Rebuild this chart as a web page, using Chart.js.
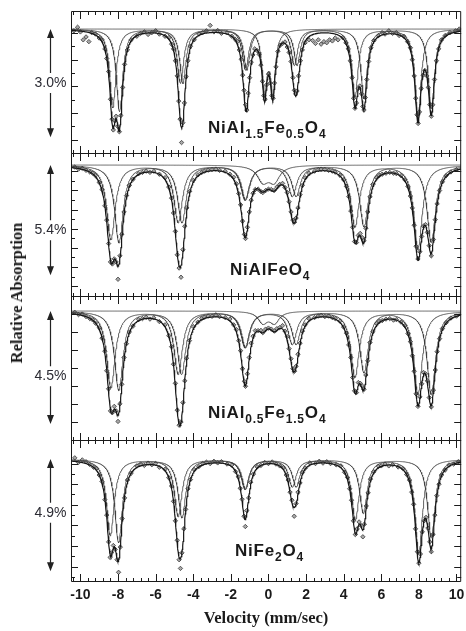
<!DOCTYPE html>
<html>
<head>
<meta charset="utf-8">
<title>Mossbauer spectra</title>
<script src="https://cdn.jsdelivr.net/npm/chart.js@4.4.1/dist/chart.umd.min.js"></script>
<style>
  body { margin: 0; background: #fff; }
  #fig { position: relative; width: 466px; height: 631px; overflow: hidden; }
  #fig canvas { position: absolute; left: 0; }
  .name { position: absolute; font: bold 17px "Liberation Sans", Arial, sans-serif; color: #1a1a1a;
          letter-spacing: 0.8px; white-space: nowrap; line-height: 1; z-index: 5; }
  .name sub { font-size: 12px; vertical-align: -5px; line-height: 0; }
  #ytitle { position: absolute; left: 17px; top: 293px; transform: translate(-50%, -50%) rotate(-90deg);
            font: bold 16.5px "Liberation Serif", serif; white-space: nowrap; color: #1a1a1a; z-index: 5; }
</style>
</head>
<body>
<div id="fig">
  <div id="ytitle">Relative Absorption</div>
</div>
<script>
// ---------- DATA ----------
const velTicks = [-10, -8, -6, -4, -2, 0, 2, 4, 6, 8, 10];
const names = [
  "NiAl<sub>1.5</sub>Fe<sub>0.5</sub>O<sub>4</sub>",
  "NiAlFeO<sub>4</sub>",
  "NiAl<sub>0.5</sub>Fe<sub>1.5</sub>O<sub>4</sub>",
  "NiFe<sub>2</sub>O<sub>4</sub>"
];
const scalePct = [3.0, 5.4, 4.5, 4.9];   // size of the scale arrow, % absorption
const yTop = [-0.5, -0.59, -0.6, -0.83];  // % absorption at panel top
const yBottom = [3.44, 6.42, 5.14, 5.33]; // % absorption at panel bottom

// fitted sub-spectra: line positions (mm/s), depths (%), half widths (mm/s)
// A = tetrahedral sextet, B = octahedral sextet, D = central doublet
const p1PosA = [-7.92, -4.55, -1.22, 1.38, 4.60, 7.95];
const p1DepA = [2.29, 1.50, 1.13, 1.00, 1.88, 2.42];
const p1PosB = [-8.28, -4.68, -1.15, 1.52, 5.08, 8.66];
const p1DepB = [2.18, 1.50, 1.13, 1.00, 1.93, 2.21];
const p1PosD = [-0.21, 0.23];
const p1DepD = [1.68, 1.68];
const p1Width = [0.20, 0.16];

const p2PosA = [-7.95, -4.60, -1.25, 1.27, 4.60, 7.95];
const p2DepA = [3.80, 2.80, 1.68, 1.50, 3.00, 4.12];
const p2PosB = [-8.38, -4.80, -1.22, 1.47, 5.08, 8.66];
const p2DepB = [3.65, 2.80, 1.68, 1.50, 3.00, 3.78];
const p2PosD = [-0.30, 0.30];
const p2DepD = [0.75, 0.75];
const p2Width = [0.27, 0.35];

const p3PosA = [-7.96, -4.62, -1.25, 1.27, 4.60, 7.95];
const p3DepA = [3.15, 2.50, 1.43, 1.30, 2.61, 3.32];
const p3PosB = [-8.38, -4.80, -1.22, 1.47, 5.08, 8.66];
const p3DepB = [3.05, 2.50, 1.43, 1.30, 2.44, 3.32];
const p3PosD = [-0.30, 0.32];
const p3DepD = [0.45, 0.45];
const p3Width = [0.27, 0.30];

const p4PosA = [-7.97, -4.60, -1.25, 1.27, 4.62, 7.99];
const p4DepA = [3.65, 2.55, 1.30, 1.20, 2.64, 4.11];
const p4PosB = [-8.41, -4.80, -1.22, 1.47, 5.05, 8.66];
const p4DepB = [3.35, 2.50, 1.30, 1.20, 2.37, 3.43];
const p4Width = [0.24];

// measured points [velocity, % absorption]
const p1Points = [[-10.35,0.05],[-10.15,-0.05],[-10.0,0.08],[-9.85,0.3],[-9.7,0.22],[-9.55,0.35],[-9.4,0.1],[-9.2,0.14],[-9.0,0.25],[-8.85,0.3],[-8.7,0.55],[-8.6,0.82],[-8.5,1.18],[-8.4,1.95],[-8.32,2.5],[-8.25,2.8],[-8.17,2.55],[-8.1,2.42],[-8.02,2.7],[-7.93,2.85],[-7.85,2.4],[-7.75,1.62],[-7.65,0.98],[-7.5,0.58],[-7.3,0.3],[-7.0,0.2],[-6.8,0.12],[-6.6,0.08],[-6.4,0.15],[-6.2,0.1],[-6.0,0.05],[-5.8,0.14],[-5.5,0.2],[-5.3,0.24],[-5.15,0.42],[-5.05,0.55],[-4.95,0.88],[-4.85,1.3],[-4.77,2.0],[-4.7,2.5],[-4.62,3.15],[-4.55,2.6],[-4.47,2.05],[-4.38,1.32],[-4.28,0.88],[-4.15,0.48],[-3.95,0.3],[-3.7,0.14],[-3.5,0.1],[-3.3,0.05],[-3.1,-0.1],[-2.9,0.08],[-2.7,0.04],[-2.5,0.12],[-2.2,0.1],[-1.95,0.2],[-1.78,0.28],[-1.65,0.35],[-1.55,0.58],[-1.45,0.84],[-1.37,1.28],[-1.3,1.7],[-1.22,2.1],[-1.15,2.25],[-1.08,1.78],[-1.0,1.35],[-0.92,0.92],[-0.83,0.72],[-0.73,0.55],[-0.6,0.6],[-0.5,0.7],[-0.4,1.0],[-0.32,1.45],[-0.25,1.85],[-0.18,1.95],[-0.1,1.55],[0.0,1.25],[0.1,1.5],[0.18,1.85],[0.25,1.92],[0.32,1.5],[0.4,1.05],[0.5,0.62],[0.62,0.45],[0.75,0.4],[0.88,0.36],[1.0,0.5],[1.1,0.65],[1.2,0.9],[1.3,1.35],[1.38,1.7],[1.45,1.8],[1.52,1.72],[1.6,1.3],[1.7,0.88],[1.8,0.58],[1.95,0.38],[2.15,0.3],[2.35,0.32],[2.5,0.4],[2.65,0.3],[2.8,0.42],[2.95,0.35],[3.1,0.38],[3.25,0.3],[3.4,0.33],[3.55,0.25],[3.7,0.3],[3.95,0.24],[4.12,0.38],[4.25,0.55],[4.35,0.88],[4.45,1.35],[4.53,1.92],[4.6,2.2],[4.68,2.05],[4.77,1.65],[4.86,1.58],[4.95,1.8],[5.02,2.15],[5.08,2.25],[5.15,1.9],[5.23,1.4],[5.33,0.9],[5.45,0.52],[5.6,0.32],[5.85,0.18],[6.05,0.1],[6.2,0.14],[6.4,0.05],[6.6,0.12],[6.8,0.1],[6.95,0.18],[7.2,0.2],[7.4,0.35],[7.55,0.52],[7.65,0.85],[7.75,1.3],[7.83,1.92],[7.9,2.38],[7.96,2.62],[8.03,2.3],[8.12,1.65],[8.22,1.28],[8.32,1.15],[8.42,1.3],[8.5,1.62],[8.58,2.1],[8.66,2.42],[8.74,2.1],[8.83,1.4],[8.93,0.88],[9.05,0.55],[9.2,0.3],[9.4,0.18],[9.65,0.1],[9.95,0.05],[10.15,0.0]];

const p2Points = [[-10.3,0.1],[-10.1,0.2],[-9.9,0.16],[-9.7,0.26],[-9.5,0.34],[-9.35,0.4],[-9.2,0.52],[-9.0,0.85],[-8.85,1.2],[-8.7,2.0],[-8.6,2.7],[-8.5,3.85],[-8.4,4.75],[-8.3,4.85],[-8.2,4.6],[-8.1,4.75],[-8.0,5.6],[-7.9,4.45],[-7.8,3.4],[-7.68,2.3],[-7.55,1.5],[-7.4,1.0],[-7.2,0.7],[-6.9,0.42],[-6.7,0.36],[-6.5,0.3],[-6.3,0.36],[-6.1,0.3],[-5.8,0.45],[-5.5,0.62],[-5.3,1.08],[-5.15,1.62],[-5.05,2.35],[-4.95,3.25],[-4.85,4.4],[-4.75,5.05],[-4.65,5.5],[-4.55,4.15],[-4.45,3.0],[-4.35,2.1],[-4.2,1.3],[-4.0,0.75],[-3.75,0.48],[-3.55,0.36],[-3.4,0.3],[-3.2,0.25],[-3.0,0.22],[-2.8,0.2],[-2.6,0.26],[-2.3,0.3],[-2.05,0.45],[-1.85,0.6],[-1.7,0.92],[-1.58,1.4],[-1.48,1.95],[-1.38,2.75],[-1.28,3.4],[-1.22,3.6],[-1.12,3.05],[-1.02,2.3],[-0.92,1.72],[-0.82,1.38],[-0.7,1.2],[-0.55,1.18],[-0.4,1.3],[-0.3,1.35],[-0.15,1.25],[0.0,1.18],[0.15,1.2],[0.3,1.25],[0.45,1.08],[0.6,0.95],[0.75,0.9],[0.88,1.1],[1.0,1.35],[1.1,1.8],[1.2,2.3],[1.3,2.7],[1.38,2.8],[1.47,2.6],[1.57,2.1],[1.68,1.45],[1.8,1.0],[1.95,0.62],[2.15,0.4],[2.45,0.3],[2.65,0.22],[2.8,0.2],[3.0,0.22],[3.2,0.26],[3.4,0.3],[3.55,0.35],[3.8,0.5],[4.0,0.72],[4.15,1.05],[4.27,1.55],[4.38,2.25],[4.48,3.05],[4.58,3.75],[4.68,3.8],[4.78,3.45],[4.88,3.35],[4.98,3.55],[5.08,3.7],[5.18,3.1],[5.28,2.3],[5.4,1.55],[5.55,0.95],[5.75,0.62],[5.9,0.5],[6.05,0.45],[6.25,0.4],[6.45,0.36],[6.65,0.4],[6.8,0.42],[7.05,0.52],[7.25,0.72],[7.42,1.05],[7.55,1.52],[7.65,2.1],[7.75,2.95],[7.85,3.98],[7.95,4.6],[8.05,4.25],[8.15,3.5],[8.25,3.0],[8.35,2.92],[8.45,3.3],[8.55,3.95],[8.66,4.45],[8.77,3.65],[8.87,2.68],[8.97,1.9],[9.1,1.25],[9.25,0.82],[9.45,0.52],[9.7,0.34],[10.0,0.22]];

const p3Points = [[-10.3,0.05],[-10.1,0.14],[-9.9,0.12],[-9.7,0.22],[-9.5,0.3],[-9.35,0.35],[-9.2,0.48],[-9.0,0.66],[-8.85,1.08],[-8.7,1.6],[-8.6,2.38],[-8.5,3.1],[-8.4,3.98],[-8.3,4.05],[-8.2,3.8],[-8.1,3.98],[-8.0,4.4],[-7.9,3.7],[-7.8,2.92],[-7.68,1.85],[-7.55,1.3],[-7.4,0.84],[-7.2,0.6],[-6.9,0.34],[-6.7,0.3],[-6.5,0.25],[-6.3,0.32],[-6.1,0.27],[-5.8,0.42],[-5.5,0.55],[-5.3,0.98],[-5.15,1.42],[-5.05,2.12],[-4.95,2.88],[-4.85,3.95],[-4.75,4.55],[-4.65,4.42],[-4.55,3.65],[-4.45,2.78],[-4.35,1.88],[-4.2,1.18],[-4.0,0.62],[-3.75,0.44],[-3.55,0.3],[-3.4,0.24],[-3.2,0.2],[-3.0,0.21],[-2.8,0.15],[-2.6,0.22],[-2.3,0.26],[-2.05,0.32],[-1.85,0.55],[-1.7,0.74],[-1.58,1.18],[-1.48,1.58],[-1.38,2.3],[-1.28,2.8],[-1.22,3.0],[-1.12,2.5],[-1.02,1.85],[-0.92,1.28],[-0.82,1.0],[-0.7,0.78],[-0.55,0.78],[-0.4,0.77],[-0.3,0.86],[-0.15,0.72],[0.0,0.68],[0.15,0.72],[0.32,0.8],[0.45,0.7],[0.6,0.66],[0.75,0.58],[0.88,0.8],[1.0,1.02],[1.1,1.5],[1.2,1.9],[1.3,2.3],[1.38,2.4],[1.47,2.2],[1.57,1.72],[1.68,1.28],[1.8,0.8],[1.95,0.55],[2.15,0.3],[2.45,0.26],[2.65,0.2],[2.8,0.17],[3.0,0.22],[3.2,0.2],[3.4,0.26],[3.55,0.3],[3.8,0.4],[4.0,0.64],[4.15,0.88],[4.27,1.35],[4.38,1.85],[4.48,2.65],[4.58,3.18],[4.68,3.25],[4.78,2.85],[4.88,2.88],[4.98,2.98],[5.08,3.12],[5.18,2.55],[5.28,1.98],[5.4,1.25],[5.55,0.82],[5.75,0.5],[5.9,0.4],[6.05,0.38],[6.25,0.32],[6.45,0.3],[6.65,0.36],[6.8,0.34],[7.05,0.44],[7.25,0.58],[7.42,0.9],[7.55,1.22],[7.65,1.78],[7.75,2.4],[7.85,3.3],[7.95,3.8],[8.05,3.42],[8.15,2.9],[8.25,2.45],[8.35,2.5],[8.45,2.78],[8.55,3.45],[8.66,3.82],[8.77,3.15],[8.87,2.35],[8.97,1.62],[9.1,1.1],[9.25,0.7],[9.45,0.46],[9.7,0.28],[10.0,0.2]];

const p4Points = [[-10.3,-0.05],[-10.1,0.15],[-9.9,0.04],[-9.7,0.12],[-9.5,0.24],[-9.3,0.36],[-9.15,0.41],[-9.0,0.7],[-8.85,0.98],[-8.7,1.78],[-8.6,2.45],[-8.5,3.62],[-8.42,4.3],[-8.35,4.1],[-8.25,3.78],[-8.15,3.95],[-8.05,4.4],[-7.97,4.95],[-7.88,3.85],[-7.78,2.6],[-7.65,1.7],[-7.5,0.92],[-7.3,0.62],[-7.0,0.3],[-6.8,0.22],[-6.6,0.28],[-6.4,0.18],[-6.2,0.25],[-6.0,0.2],[-5.8,0.36],[-5.5,0.45],[-5.3,0.82],[-5.15,1.18],[-5.05,1.85],[-4.95,2.7],[-4.85,3.55],[-4.75,4.4],[-4.68,4.78],[-4.6,4.1],[-4.5,3.05],[-4.4,2.2],[-4.28,1.3],[-4.15,0.9],[-3.95,0.46],[-3.7,0.33],[-3.5,0.2],[-3.3,0.14],[-3.1,0.2],[-2.9,0.1],[-2.7,0.17],[-2.5,0.12],[-2.2,0.22],[-1.95,0.26],[-1.75,0.55],[-1.6,0.78],[-1.5,1.28],[-1.4,1.76],[-1.3,2.5],[-1.23,2.95],[-1.15,2.25],[-1.05,1.7],[-0.95,1.02],[-0.8,0.66],[-0.6,0.34],[-0.4,0.28],[-0.2,0.15],[0.0,0.2],[0.2,0.13],[0.4,0.22],[0.6,0.3],[0.8,0.38],[0.95,0.7],[1.05,0.92],[1.15,1.45],[1.25,1.8],[1.37,2.5],[1.47,1.95],[1.57,1.45],[1.68,1.05],[1.8,0.58],[1.95,0.4],[2.2,0.17],[2.5,0.2],[2.7,0.1],[2.9,0.18],[3.1,0.12],[3.3,0.2],[3.6,0.25],[3.85,0.3],[4.05,0.58],[4.2,0.8],[4.32,1.3],[4.42,1.8],[4.52,2.7],[4.62,3.3],[4.72,3.05],[4.82,2.75],[4.92,2.9],[5.02,3.4],[5.1,2.85],[5.2,2.05],[5.3,1.48],[5.42,0.88],[5.6,0.56],[5.85,0.32],[6.0,0.3],[6.2,0.22],[6.4,0.3],[6.6,0.25],[6.9,0.35],[7.15,0.42],[7.35,0.68],[7.5,0.92],[7.62,1.45],[7.72,1.98],[7.82,3.05],[7.92,4.05],[8.0,4.55],[8.08,4.15],[8.18,3.18],[8.28,2.7],[8.38,2.55],[8.48,3.02],[8.58,3.62],[8.66,4.05],[8.75,3.3],[8.85,2.45],[8.95,1.6],[9.07,1.1],[9.2,0.7],[9.4,0.48],[9.6,0.26],[9.85,0.22],[10.1,0.12]];

// ---------- LAYOUT ----------
const VMIN = -10.5, VMAX = 10.25;
const panelTop = [11, 153, 296, 440];
const panelBottom = [153, 296, 440, 581];
const namePos = [[208, 119], [230, 261], [208, 404], [235, 542]];
const labelAt = [1.5, 3.2, 2.6, 2.35];     // where the % label sits on the arrow
const yTick0 = [0.11, 0.3, 0.1, 0.2];
const yTickStep = [0.37, 0.47, 0.72, 0.45];

const panels = [
  { sites: [[p1PosA, p1DepA, p1Width[0]], [p1PosB, p1DepB, p1Width[0]], [p1PosD, p1DepD, p1Width[1]]], pts: p1Points },
  { sites: [[p2PosA, p2DepA, p2Width[0]], [p2PosB, p2DepB, p2Width[0]], [p2PosD, p2DepD, p2Width[1]]], pts: p2Points },
  { sites: [[p3PosA, p3DepA, p3Width[0]], [p3PosB, p3DepB, p3Width[0]], [p3PosD, p3DepD, p3Width[1]]], pts: p3Points },
  { sites: [[p4PosA, p4DepA, p4Width[0]], [p4PosB, p4DepB, p4Width[0]]], pts: p4Points }
];

function lorentz(v, pos, dep, w) {
  let s = 0;
  for (let i = 0; i < pos.length; i++) s += dep[i] / (1 + ((v - pos[i]) / w) ** 2);
  return s;
}

const grid = [];
for (let v = VMIN; v <= VMAX + 1e-9; v += 0.02) grid.push(+v.toFixed(2));

// ---------- FRAME / TICKS / ARROW ----------
const framePlugin = {
  id: "frame",
  afterDraw(chart, args, opts) {
    const { ctx, chartArea: a, scales: { x, y } } = chart;
    const i = opts.index;
    ctx.save();
    ctx.strokeStyle = "#1a1a1a";
    ctx.lineWidth = 1;
    ctx.beginPath();
    ctx.moveTo(a.left + 0.5, a.top + 0.5);
    ctx.lineTo(a.right - 0.5, a.top + 0.5);
    ctx.lineTo(a.right - 0.5, a.bottom + 0.5);
    ctx.lineTo(a.left + 0.5, a.bottom + 0.5);
    ctx.closePath();

    for (let k = -26; k <= 26; k++) {
      const v = k * 0.4;
      if (v < VMIN || v > VMAX) continue;
      const px = Math.round(x.getPixelForValue(v)) + 0.5;
      const len = k % 5 === 0 ? 8 : 4;
      ctx.moveTo(px, a.top); ctx.lineTo(px, a.top + len);
      ctx.moveTo(px, a.bottom + 1); ctx.lineTo(px, a.bottom + 1 - len);
    }
    let n = 0;
    for (let v = yTick0[i]; v < yBottom[i]; v += yTickStep[i], n++) {
      const py = Math.round(y.getPixelForValue(v)) + 0.5;
      const len = (i !== 2 && n % 2) ? 4 : 7;
      ctx.moveTo(a.left, py); ctx.lineTo(a.left + len, py);
      ctx.moveTo(a.right, py); ctx.lineTo(a.right - len, py);
    }
    ctx.stroke();

    // scale arrow
    const ax = 50.5;
    const y0 = y.getPixelForValue(0), y1 = y.getPixelForValue(scalePct[i]);
    const yl = y.getPixelForValue(labelAt[i]);
    ctx.strokeStyle = "#222";
    ctx.fillStyle = "#222";
    ctx.lineWidth = 1.2;
    ctx.beginPath();
    ctx.moveTo(ax, y0 + 6); ctx.lineTo(ax, yl - 10);
    ctx.moveTo(ax, yl + 10); ctx.lineTo(ax, y1 - 6);
    ctx.stroke();
    ctx.beginPath();
    ctx.moveTo(ax, y0); ctx.lineTo(ax - 3.5, y0 + 9); ctx.lineTo(ax + 3.5, y0 + 9); ctx.closePath();
    ctx.moveTo(ax, y1); ctx.lineTo(ax - 3.5, y1 - 9); ctx.lineTo(ax + 3.5, y1 - 9); ctx.closePath();
    ctx.fill();
    ctx.font = '14px "Liberation Sans", Arial, sans-serif';
    ctx.fillStyle = "#2b2b33";
    ctx.textAlign = "center";
    ctx.textBaseline = "middle";
    ctx.fillText(scalePct[i].toFixed(1) + "%", ax, yl);
    ctx.restore();
  }
};

// ---------- CHARTS ----------
const fig = document.getElementById("fig");

panels.forEach((p, i) => {
  const last = i === panels.length - 1;
  const top = panelTop[i] - 10;
  const h = last ? 631 - top : panelBottom[i] - panelTop[i] + 20;

  const canvas = document.createElement("canvas");
  canvas.width = 466;
  canvas.height = h;
  canvas.style.top = top + "px";
  fig.appendChild(canvas);

  const nm = document.createElement("div");
  nm.className = "name";
  nm.innerHTML = names[i];
  nm.style.left = namePos[i][0] + "px";
  nm.style.top = namePos[i][1] + "px";
  fig.appendChild(nm);

  const comps = p.sites.map(s => grid.map(v => ({ x: v, y: lorentz(v, s[0], s[1], s[2]) })));
  const total = grid.map((v, k) => ({ x: v, y: comps.reduce((t, c) => t + c[k].y, 0) }));

  const datasets = [{
    data: p.pts.map(d => ({ x: d[0], y: d[1] })),
    showLine: false,
    pointStyle: "rectRot",
    pointRadius: 2.2,
    pointBorderWidth: 0.8,
    pointBorderColor: "#3a3a3a",
    pointBackgroundColor: "#a8a8a8",
    order: 3
  }];
  comps.forEach(c => datasets.push({
    data: c, borderColor: "#3c3c3c", borderWidth: 0.8, pointRadius: 0, order: 2
  }));
  datasets.push({ data: total, borderColor: "#161616", borderWidth: 1.2, pointRadius: 0, order: 1 });

  const xAxis = {
    type: "linear", min: VMIN, max: VMAX, display: last,
    grid: { display: false, drawTicks: false },
    border: { display: false },
    afterBuildTicks: s => { s.ticks = velTicks.map(v => ({ value: v })); },
    ticks: {
      font: { family: "Liberation Sans", size: 14, weight: "bold" },
      color: "#1a1a1a", padding: 6, maxRotation: 0, autoSkip: false
    },
    title: {
      display: last, text: "Velocity (mm/sec)", color: "#1a1a1a",
      font: { family: "Liberation Serif", size: 16.5, weight: "bold" },
      padding: { top: 0, bottom: 2 }
    }
  };
  if (last) xAxis.afterFit = s => { s.height = 50; s.paddingLeft = 0; s.paddingRight = 0; };

  new Chart(canvas, {
    type: "line",
    data: { datasets },
    options: {
      animation: false,
      responsive: false,
      devicePixelRatio: 1,
      events: [],
      layout: { padding: { left: 71, right: 3, top: 10, bottom: last ? 0 : 10 } },
      plugins: { legend: { display: false }, tooltip: { enabled: false }, frame: { index: i } },
      scales: {
        x: xAxis,
        y: { type: "linear", min: yTop[i], max: yBottom[i], reverse: true, display: false }
      }
    },
    plugins: [framePlugin]
  });
});
</script>
</body>
</html>
